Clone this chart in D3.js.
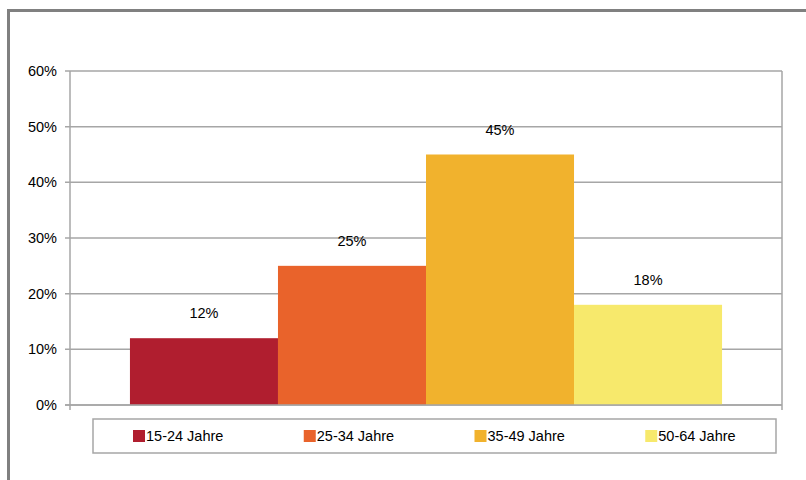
<!DOCTYPE html>
<html>
<head>
<meta charset="utf-8">
<script src="https://cdn.jsdelivr.net/npm/d3@7"></script>
<style>
  body { margin: 0; background: #fff; }
  text { font-family: "Liberation Sans", Arial, sans-serif; fill: #000; }
</style>
</head>
<body>
<script>
const width = 806;
const height = 480;

// data
const groups = ["15-24 Jahre", "25-34 Jahre", "35-49 Jahre", "50-64 Jahre"];
const shares = [12, 25, 45, 18];
const yTicks = [0, 10, 20, 30, 40, 50, 60];
const colors = ["#B01E2F", "#E9632B", "#F1B22D", "#F7E96C"];

const plot = { left: 70, right: 782, top: 71, bottom: 405 };

const svg = d3.select("body")
	.append("svg")
	.attr("width", width)
	.attr("height", height);

// outer frame (top and left only)
svg.append("path")
	.attr("d", "M8.5," + height + "V10.5H" + width)
	.attr("fill", "none")
	.attr("stroke", "#808080")
	.attr("stroke-width", 3);

const x = d3.scaleBand()
	.domain(groups)
	.range([plot.left, plot.right])
	.paddingInner(0)
	.paddingOuter(0.405);

const y = d3.scaleLinear()
	.domain([0, 60])
	.range([plot.bottom, plot.top]);

// gridlines
svg.append("g")
	.selectAll("line")
	.data(yTicks)
	.enter()
	.append("line")
	.attr("x1", plot.left - 5)
	.attr("x2", plot.right)
	.attr("y1", function (d) { return y(d); })
	.attr("y2", function (d) { return y(d); })
	.attr("stroke", "#a6a6a6")
	.attr("stroke-width", 1.5);

// left and right borders of the plot, with small ticks below
svg.append("g")
	.selectAll("line")
	.data([plot.left, plot.right])
	.enter()
	.append("line")
	.attr("x1", function (d) { return d; })
	.attr("x2", function (d) { return d; })
	.attr("y1", plot.top)
	.attr("y2", plot.bottom + 5)
	.attr("stroke", "#a6a6a6")
	.attr("stroke-width", 1.5);

// y labels
svg.append("g")
	.selectAll("text")
	.data(yTicks)
	.enter()
	.append("text")
	.attr("x", 57)
	.attr("y", function (d) { return y(d) + 5; })
	.attr("text-anchor", "end")
	.attr("font-size", "14.5px")
	.text(function (d) { return d + "%"; });

// bars
svg.append("g")
	.selectAll("rect")
	.data(shares)
	.enter()
	.append("rect")
	.attr("x", function (d, i) { return x(groups[i]); })
	.attr("width", x.bandwidth())
	.attr("y", function (d) { return y(d); })
	.attr("height", function (d) { return y(0) - y(d); })
	.attr("fill", function (d, i) { return colors[i]; });

// bottom axis line on top of bars
svg.append("line")
	.attr("x1", plot.left - 5)
	.attr("x2", plot.right)
	.attr("y1", y(0))
	.attr("y2", y(0))
	.attr("stroke", "#a6a6a6")
	.attr("stroke-width", 1.5);

// value labels
svg.append("g")
	.selectAll("text")
	.data(shares)
	.enter()
	.append("text")
	.attr("x", function (d, i) { return x(groups[i]) + x.bandwidth() / 2; })
	.attr("y", function (d) { return y(d) - 20; })
	.attr("text-anchor", "middle")
	.attr("font-size", "14.5px")
	.text(function (d) { return d + "%"; });

// legend
const legend = svg.append("g");
legend.append("rect")
	.attr("x", 93)
	.attr("y", 419)
	.attr("width", 683)
	.attr("height", 34)
	.attr("fill", "#fff")
	.attr("stroke", "#a6a6a6")
	.attr("stroke-width", 1.5);

const legendX = d3.scaleBand()
	.domain(groups)
	.range([93, 776]);

const item = legend.selectAll("g.item")
	.data(groups)
	.enter()
	.append("g")
	.attr("class", "item")
	.attr("transform", function (d) { return "translate(" + (legendX(d) + 40) + ",430)"; });

item.append("rect")
	.attr("width", 12)
	.attr("height", 12)
	.attr("fill", function (d, i) { return colors[i]; });

item.append("text")
	.attr("x", 13)
	.attr("y", 11)
	.attr("font-size", "14.5px")
	.text(function (d) { return d; });
</script>
</body>
</html>
